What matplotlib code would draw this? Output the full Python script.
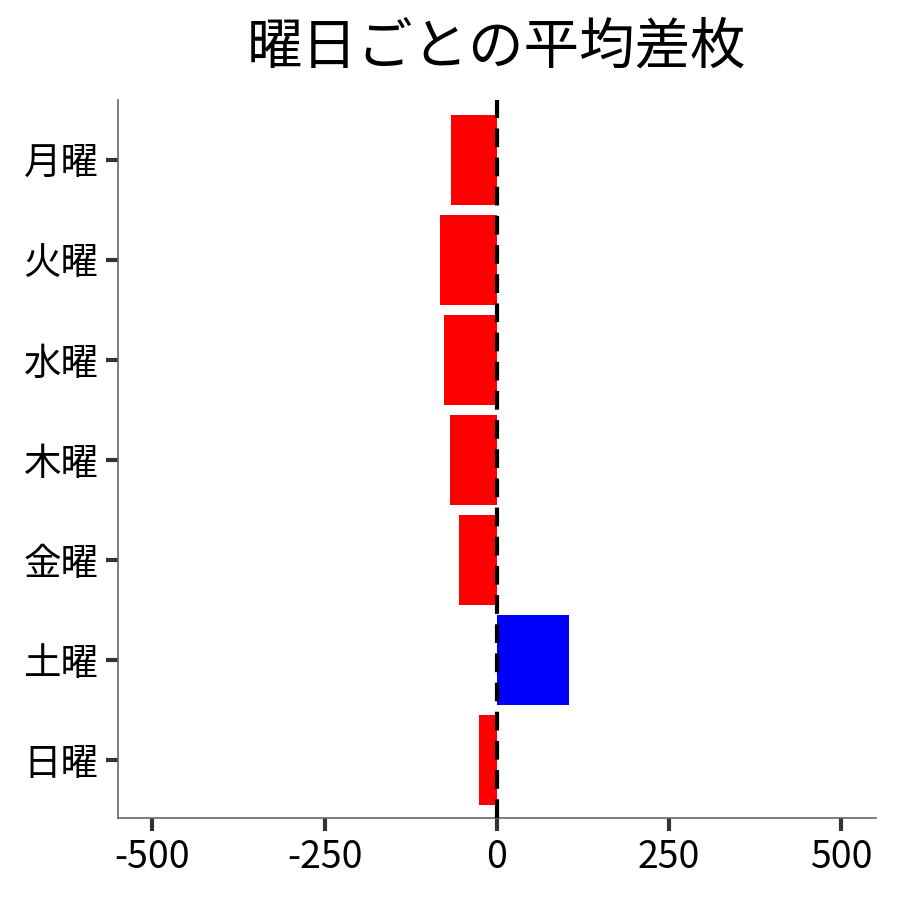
import matplotlib
matplotlib.use("Agg")
import matplotlib.pyplot as plt

plt.rcParams['font.family'] = ['Noto Sans CJK JP', 'DejaVu Sans']

days = ["月曜", "火曜", "水曜", "木曜", "金曜", "土曜", "日曜"]
avg_diff = [-66, -82, -77, -68, -55, 105, -26]

colors = ["#0000ff" if v > 0 else "#ff0000" for v in avg_diff]

fig = plt.figure(figsize=(9, 9), dpi=100)
ax = fig.add_axes([0.131, 0.091, 0.842, 0.798])

ypos = list(range(len(days)))
ax.barh(ypos, avg_diff, height=0.9, color=colors, zorder=2)
ax.axvline(0, color="black", linestyle=(0, (4.5, 2.5)), linewidth=3, zorder=3)

ax.set_yticks(ypos)
ax.set_yticklabels(days, fontsize=27)
ax.set_ylim(6.58, -0.6)
ax.set_xlim(-550, 550)
ax.set_xticks([-500, -250, 0, 250, 500])
ax.set_xticklabels(["-500", "-250", "0", "250", "500"], fontsize=27)

for s in ["top", "right"]:
    ax.spines[s].set_visible(False)
for s in ["left", "bottom"]:
    ax.spines[s].set_color("#666666")
    ax.spines[s].set_linewidth(1.2)
ax.tick_params(axis="both", colors="#333333", width=3, length=9, pad=5,
               labelcolor="black")

ax.set_title("曜日ごとの平均差枚", fontsize=40, pad=26)

fig.savefig("out.png", dpi=100)
